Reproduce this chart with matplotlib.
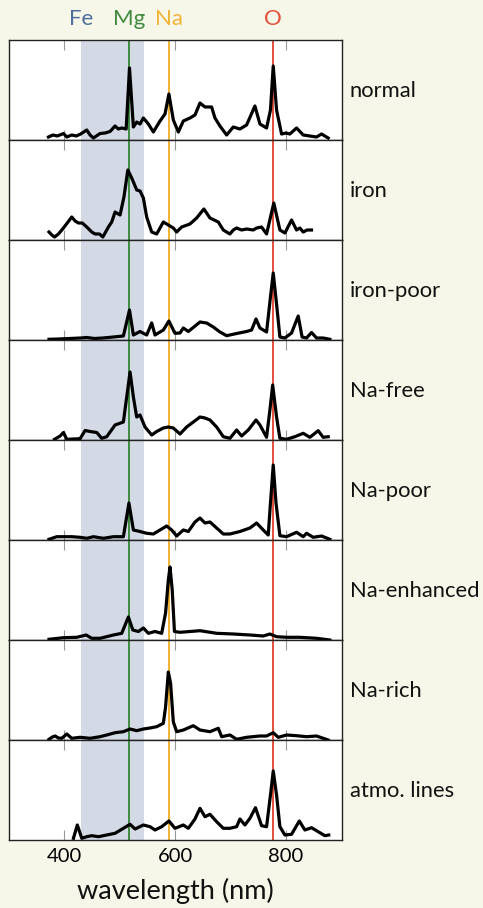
import matplotlib
matplotlib.use("Agg")
import matplotlib.pyplot as plt

BG = "#f7f7e9"
FE_C, MG_C, NA_C, O_C = "#4e6e9e", "#3f8a3f", "#f2b233", "#e2503a"
BAND_C = "#d3dae6"

panel_names = ["normal", "iron", "iron-poor", "Na-free", "Na-poor",
               "Na-enhanced", "Na-rich", "atmo. lines"]

fe_band = (430, 545)
mg_line = 518
na_line = 589
o_line = 777

xticks = [400, 600, 800]

wl_normal = [372, 380, 388, 399, 405, 414, 422, 430, 441, 447, 453, 465, 474, 483, 492, 498, 504, 512,
             518, 525, 531, 537, 543, 552, 561, 573, 582, 589, 597, 606, 615, 627, 636, 645, 654, 666,
             672, 681, 693, 705, 717, 729, 744, 753, 765, 772, 777, 783, 792, 800, 807, 819, 831, 843,
             855, 864, 876]
val_normal = [0.03, 0.05, 0.04, 0.065, 0.03, 0.05, 0.04, 0.06, 0.10, 0.05, 0.02, 0.065, 0.07, 0.085,
              0.14, 0.11, 0.12, 0.11, 0.72, 0.13, 0.18, 0.16, 0.22, 0.16, 0.08, 0.19, 0.26, 0.46, 0.20,
              0.08, 0.19, 0.22, 0.25, 0.37, 0.33, 0.33, 0.22, 0.14, 0.05, 0.13, 0.11, 0.15, 0.34, 0.16,
              0.12, 0.30, 0.74, 0.30, 0.06, 0.07, 0.06, 0.12, 0.05, 0.04, 0.03, 0.06, 0.02]

wl_iron = [373, 378, 383, 390, 399, 414, 420, 426, 433, 441, 450, 456, 464, 470, 480, 486, 492, 501,
           508, 515, 522, 531, 537, 543, 549, 558, 567, 579, 588, 597, 603, 612, 627, 639, 652, 663,
           678, 687, 699, 705, 711, 720, 729, 741, 747, 756, 765, 778, 789, 798, 810, 819, 825, 831,
           838, 846]
val_iron = [0.08, 0.05, 0.03, 0.06, 0.12, 0.23, 0.19, 0.17, 0.17, 0.13, 0.08, 0.06, 0.06, 0.03, 0.13,
            0.18, 0.28, 0.25, 0.43, 0.70, 0.62, 0.50, 0.49, 0.42, 0.23, 0.08, 0.06, 0.18, 0.15, 0.12,
            0.08, 0.13, 0.16, 0.22, 0.31, 0.22, 0.18, 0.10, 0.06, 0.10, 0.12, 0.10, 0.11, 0.10, 0.12,
            0.13, 0.06, 0.37, 0.10, 0.07, 0.20, 0.10, 0.12, 0.08, 0.10, 0.10]

wl_ironpoor = [373, 390, 410, 430, 441, 455, 470, 489, 507, 518, 525, 537, 549, 558, 564, 579, 589,
               600, 609, 615, 624, 645, 657, 669, 681, 693, 711, 729, 738, 746, 753, 765, 772, 777,
               783, 789, 798, 810, 822, 829, 837, 846, 855, 867, 879]
val_ironpoor = [0.007, 0.01, 0.015, 0.02, 0.025, 0.015, 0.02, 0.03, 0.04, 0.30, 0.05, 0.085, 0.05,
                0.17, 0.05, 0.10, 0.19, 0.067, 0.07, 0.12, 0.085, 0.18, 0.17, 0.13, 0.08, 0.043,
                0.065, 0.085, 0.10, 0.21, 0.12, 0.08, 0.43, 0.67, 0.36, 0.03, 0.02, 0.07, 0.24, 0.03,
                0.02, 0.075, 0.02, 0.02, 0.007]

wl_nafree = [383, 393, 399, 405, 429, 438, 447, 459, 468, 477, 492, 507, 513, 519, 525, 531, 537,
             546, 558, 567, 579, 588, 597, 609, 621, 633, 645, 654, 663, 675, 687, 699, 711, 720, 732,
             746, 753, 765, 771, 776, 783, 789, 801, 816, 831, 843, 858, 867, 876]
val_nafree = [0.007, 0.04, 0.075, 0.007, 0.013, 0.095, 0.085, 0.075, 0.017, 0.033, 0.15, 0.18, 0.43,
              0.68, 0.43, 0.23, 0.25, 0.13, 0.05, 0.085, 0.12, 0.13, 0.12, 0.06, 0.13, 0.18, 0.23,
              0.22, 0.20, 0.13, 0.033, 0.017, 0.10, 0.04, 0.10, 0.20, 0.15, 0.027, 0.30, 0.55, 0.23,
              0.017, 0.007, 0.033, 0.067, 0.027, 0.093, 0.027, 0.033]

wl_napoor = [373, 387, 399, 414, 429, 441, 453, 471, 489, 507, 517, 525, 537, 549, 561, 573, 585,
             594, 603, 615, 624, 636, 645, 654, 663, 675, 687, 699, 717, 735, 747, 759, 768, 772, 777,
             782, 789, 801, 819, 831, 837, 849, 864, 879]
val_napoor = [0.007, 0.033, 0.033, 0.033, 0.027, 0.017, 0.033, 0.017, 0.033, 0.033, 0.37, 0.10, 0.085,
              0.067, 0.06, 0.10, 0.14, 0.10, 0.04, 0.10, 0.085, 0.18, 0.22, 0.17, 0.18, 0.12, 0.06,
              0.06, 0.085, 0.12, 0.17, 0.10, 0.05, 0.37, 0.75, 0.37, 0.043, 0.033, 0.077, 0.033, 0.067,
              0.027, 0.04, 0.007]

wl_naenh = [373, 399, 423, 440, 450, 465, 489, 504, 516, 524, 534, 543, 552, 564, 576, 583, 588, 591,
            595, 599, 609, 645, 675, 705, 735, 759, 771, 783, 801, 825, 855, 879]
val_naenh = [0.007, 0.023, 0.027, 0.05, 0.017, 0.017, 0.05, 0.067, 0.23, 0.10, 0.085, 0.12, 0.067,
             0.085, 0.067, 0.27, 0.60, 0.73, 0.50, 0.085, 0.077, 0.093, 0.067, 0.06, 0.05, 0.04, 0.06,
             0.033, 0.027, 0.027, 0.017, 0.0]

wl_narich = [373, 379, 384, 390, 396, 405, 414, 429, 447, 465, 477, 492, 507, 519, 531, 543, 555, 567,
             579, 583, 588, 592, 597, 603, 615, 633, 645, 663, 678, 684, 699, 711, 729, 753, 765, 777,
             786, 801, 819, 837, 855, 876]
val_narich = [0.007, 0.03, 0.04, 0.02, 0.017, 0.06, 0.017, 0.027, 0.017, 0.033, 0.05, 0.073, 0.083,
              0.11, 0.093, 0.11, 0.12, 0.133, 0.167, 0.33, 0.68, 0.57, 0.18, 0.083, 0.10, 0.143, 0.10,
              0.083, 0.117, 0.033, 0.05, 0.007, 0.027, 0.04, 0.04, 0.073, 0.027, 0.05, 0.043, 0.033,
              0.04, 0.0]

wl_atmo = [417, 424, 432, 441, 450, 462, 477, 492, 507, 519, 528, 543, 555, 564, 576, 589, 600, 615,
           624, 636, 645, 654, 663, 675, 687, 699, 711, 717, 726, 735, 745, 756, 765, 772, 777, 783,
           789, 798, 810, 824, 834, 846, 858, 870, 877]
val_atmo = [0.017, 0.15, 0.017, 0.033, 0.043, 0.033, 0.05, 0.067, 0.117, 0.157, 0.11, 0.15, 0.133, 0.10,
            0.133, 0.19, 0.117, 0.15, 0.117, 0.21, 0.317, 0.233, 0.257, 0.183, 0.117, 0.117, 0.133,
            0.21, 0.15, 0.217, 0.323, 0.143, 0.133, 0.45, 0.69, 0.45, 0.133, 0.05, 0.057, 0.19, 0.10,
            0.123, 0.083, 0.043, 0.05]

series = [(wl_normal, val_normal), (wl_iron, val_iron), (wl_ironpoor, val_ironpoor),
          (wl_nafree, val_nafree), (wl_napoor, val_napoor), (wl_naenh, val_naenh),
          (wl_narich, val_narich), (wl_atmo, val_atmo)]

plt.rcParams['font.family'] = ['Lato', 'DejaVu Sans']

W, H = 483, 908
fig = plt.figure(figsize=(W / 100, H / 100), dpi=100, facecolor=BG)

left_px, right_px = 8.5, 341.5
top_px, panel_h = 40, 100

axes = []
for i, ((wl, val), name) in enumerate(zip(series, panel_names)):
    top = top_px + panel_h * i
    ax = fig.add_axes([left_px / W, 1 - (top + panel_h) / H,
                       (right_px - left_px) / W, panel_h / H])
    ax.set_facecolor("white")
    ax.set_xlim(300, 900)
    ax.set_ylim(0, 1)
    ax.axvspan(fe_band[0], fe_band[1], color=BAND_C, lw=0, zorder=0)
    ax.axvline(mg_line, color=MG_C, lw=1.4, zorder=1)
    ax.axvline(na_line, color=NA_C, lw=1.4, zorder=1)
    ax.axvline(o_line, color=O_C, lw=1.4, zorder=1)
    ax.plot(wl, val, color="black", lw=2.3, solid_joinstyle="round", zorder=3)
    ax.set_yticks([])
    ax.set_xticks(xticks)
    ax.tick_params(axis='x', direction='in', length=7, width=0.8, color="#999999",
                   top=True, bottom=True, labelbottom=(i == len(series) - 1),
                   labelsize=14.5, pad=6)
    for s in ax.spines.values():
        s.set_linewidth(1.0)
        s.set_color("#222222")
    ax.text(1.025, 0.49, name, transform=ax.transAxes, ha='left', va='center',
            fontsize=15.8, color="#111111")
    axes.append(ax)

ax0 = axes[0]
xt = ax0.get_xaxis_transform()
for x, lab, c in [(fe_band[0], "Fe", FE_C), (mg_line, "Mg", MG_C),
                  (na_line, "Na", NA_C), (o_line, "O", O_C)]:
    ax0.text(x, 1.21, lab, transform=xt, ha='center', va='center', fontsize=16, color=c)

axes[-1].set_xlabel("wavelength (nm)", fontsize=19.5, labelpad=9, color="#111111")

fig.savefig("out.png", dpi=100, facecolor=BG)
